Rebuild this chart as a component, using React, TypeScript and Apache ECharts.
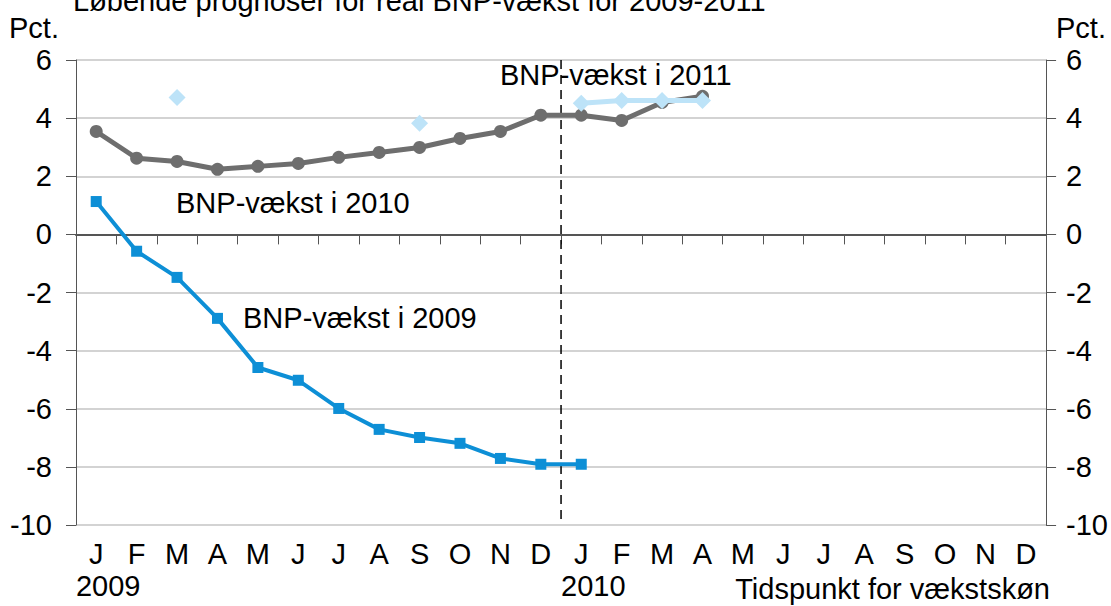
import React, { useEffect, useRef } from "react";
import * as echarts from "echarts";

const months = ["J", "F", "M", "A", "M", "J", "J", "A", "S", "O", "N", "D", "J", "F", "M", "A", "M", "J", "J", "A", "S", "O", "N", "D"];
const yearLabels: Record<number, string> = { 0: "2009", 12: "2010" };
const growth2009 = [1.13, -0.58, -1.48, -2.89, -4.58, -5.02, -5.99, -6.71, -6.99, -7.19, -7.71, -7.91, -7.91, null, null, null, null, null, null, null, null, null, null, null];
const growth2010 = [3.54, 2.62, 2.51, 2.24, 2.34, 2.44, 2.65, 2.82, 2.99, 3.30, 3.54, 4.10, 4.10, 3.92, 4.54, 4.75, null, null, null, null, null, null, null, null];
const growth2011 = [null, null, 4.71, null, null, null, null, null, 3.82, null, null, null, 4.51, 4.61, 4.61, 4.61, null, null, null, null, null, null, null, null];
const yearBreak = [[12, 6], [12, -10]];

const FONT = "'Liberation Sans', Arial, sans-serif";
const FS = 29;

export default function App() {
  const ref = useRef<HTMLDivElement>(null);
  useEffect(() => {
    if (!ref.current) return;
    const chart = echarts.init(ref.current, null, { renderer: "svg" });
    const txt = (text: string, x: number, y: number, align = "left") => ({
      type: "text",
      x,
      y,
      style: { text, fill: "#000", font: `${FS}px ${FONT}`, textAlign: align, textVerticalAlign: "middle" },
    });
    chart.setOption({
      animation: false,
      textStyle: { fontFamily: FONT },
      grid: { left: 76, right: 64, top: 60, bottom: 81, containLabel: false },
      xAxis: [
        {
          type: "category",
          data: months,
          boundaryGap: true,
          axisLine: { lineStyle: { color: "#555", width: 2 } },
          axisTick: { show: true, length: 10, lineStyle: { color: "#555", width: 1 } },
          axisLabel: {
            interval: 0,
            margin: 13,
            color: "#000",
            formatter: (v: string, i: number) =>
              yearLabels[i] ? `{m|${v}}\n{y|${yearLabels[i]}}` : `{m|${v}}`,
            rich: {
              m: { fontSize: FS, lineHeight: 32, fontFamily: FONT, color: "#000" },
              y: { fontSize: FS, lineHeight: 32, fontFamily: FONT, color: "#000", padding: [0, 0, 0, 24] },
            },
          },
          splitLine: { show: false },
        },
        { type: "value", min: 0, max: 24, show: false },
      ],
      yAxis: [
        {
          type: "value",
          min: -10,
          max: 6,
          interval: 2,
          position: "left",
          axisLine: { show: true, lineStyle: { color: "#555", width: 1 } },
          axisTick: { show: true, length: 10, lineStyle: { color: "#555" } },
          axisLabel: { fontSize: FS, color: "#000", margin: 24, fontFamily: FONT },
          splitLine: { show: true, lineStyle: { color: "#c4c4c4", width: 1.5 } },
        },
        {
          type: "value",
          min: -10,
          max: 6,
          interval: 2,
          position: "right",
          axisLine: { show: true, lineStyle: { color: "#555", width: 1 } },
          axisTick: { show: true, length: 10, lineStyle: { color: "#555" } },
          axisLabel: { fontSize: FS, color: "#000", margin: 20, fontFamily: FONT },
          splitLine: { show: false },
        },
      ],
      series: [
        {
          type: "line",
          xAxisIndex: 1,
          data: yearBreak,
          symbol: "none",
          lineStyle: { color: "#000", width: 1.5, type: [9, 6] },
          silent: true,
          z: 1,
        },
        {
          name: "BNP-vækst i 2009",
          type: "line",
          data: growth2009,
          symbol: "rect",
          symbolSize: 11,
          lineStyle: { color: "#0d8fd6", width: 4 },
          itemStyle: { color: "#0d8fd6" },
          z: 3,
        },
        {
          name: "BNP-vækst i 2010",
          type: "line",
          data: growth2010,
          symbol: "circle",
          symbolSize: 13,
          lineStyle: { color: "#6e6e6e", width: 5 },
          itemStyle: { color: "#6e6e6e" },
          z: 4,
        },
        {
          name: "BNP-vækst i 2011",
          type: "line",
          data: growth2011,
          symbol: "diamond",
          symbolSize: 17,
          connectNulls: false,
          lineStyle: { color: "#bde3f8", width: 5 },
          itemStyle: { color: "#bde3f8" },
          z: 5,
        },
      ],
      graphic: [
        txt("Løbende prognoser for real BNP-vækst for 2009-2011", 73, 1),
        txt("Pct.", 9, 28),
        txt("Pct.", 1056, 28),
        txt("BNP-vækst i 2011", 500, 75),
        txt("BNP-vækst i 2010", 176, 203),
        txt("BNP-vækst i 2009", 243, 318),
        txt("Tidspunkt for vækstskøn", 1050, 589, "right"),
      ],
    });
    return () => chart.dispose();
  }, []);
  return <div ref={ref} style={{ width: 1111, height: 606, position: "absolute", left: 0, top: 0 }} />;
}
